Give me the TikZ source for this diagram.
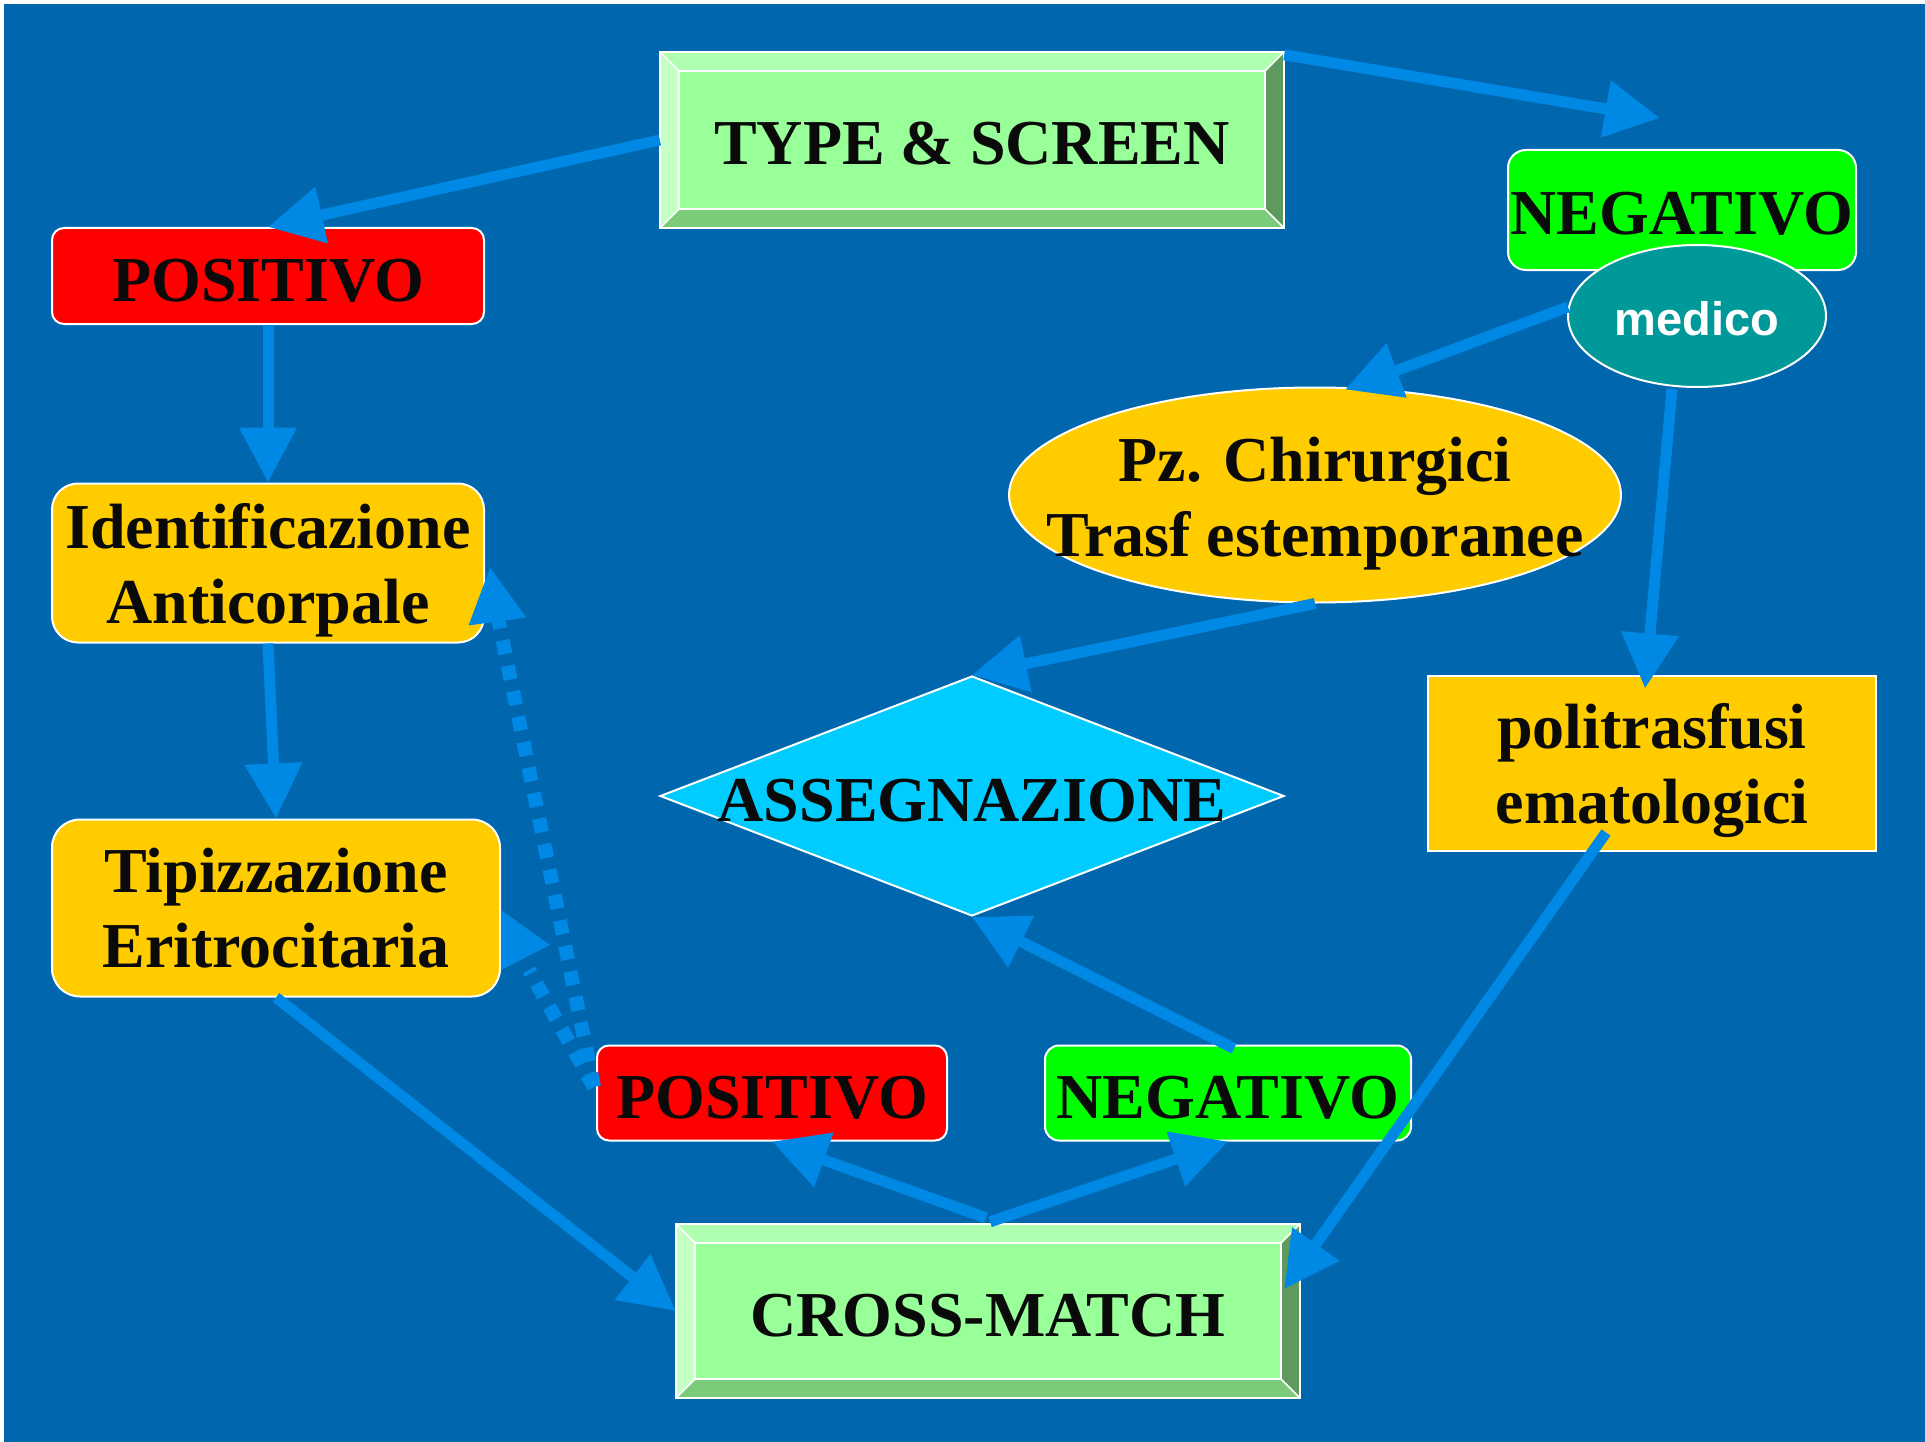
\documentclass[tikz,border=0pt]{standalone}
\usepackage{fontspec}
\setmainfont{Liberation Serif}
\setsansfont{Liberation Sans}
\usetikzlibrary{shapes.geometric,arrows.meta,calc}
\definecolor{bg}{HTML}{0066AE}
\definecolor{arrowc}{HTML}{0088E5}
\definecolor{yel}{HTML}{FFCC00}
\definecolor{redb}{HTML}{FF0000}
\definecolor{grn}{HTML}{00FF00}
\definecolor{tealc}{HTML}{009999}
\definecolor{cyanc}{HTML}{00CCFF}
\definecolor{bvface}{HTML}{99FF99}
\definecolor{bvtop}{HTML}{B0FFB0}
\definecolor{bvleft}{HTML}{C4FFC4}
\definecolor{bvright}{HTML}{5E9A5E}
\definecolor{bvbottom}{HTML}{7BCB7B}
\definecolor{txt}{HTML}{0A0A0A}
\newcommand\bevelfaces[2]{%
  \fill[bvtop] (#1.north west) -- (#1.north east) -- ($(#1.north east)+(-#2,#2)$) -- ($(#1.north west)+(#2,#2)$) -- cycle;
  \fill[bvleft] (#1.north west) -- ($(#1.north west)+(#2,#2)$) -- ($(#1.south west)+(#2,-#2)$) -- (#1.south west) -- cycle;
  \fill[bvright] (#1.north east) -- (#1.south east) -- ($(#1.south east)+(-#2,-#2)$) -- ($(#1.north east)+(-#2,#2)$) -- cycle;
  \fill[bvbottom] (#1.south west) -- (#1.south east) -- ($(#1.south east)+(-#2,-#2)$) -- ($(#1.south west)+(#2,-#2)$) -- cycle;
  \draw[white, line width=2pt] ($(#1.north west)+(#2,#2)$) rectangle ($(#1.south east)+(-#2,-#2)$);
  \draw[white, line width=2pt] (#1.north west) rectangle (#1.south east);
  \draw[white, line width=1.5pt] (#1.north west) -- ($(#1.north west)+(#2,#2)$)
     (#1.north east) -- ($(#1.north east)+(-#2,#2)$)
     (#1.south west) -- ($(#1.south west)+(#2,-#2)$)
     (#1.south east) -- ($(#1.south east)+(-#2,-#2)$);
}
\begin{document}
\begin{tikzpicture}[x=1pt,y=-1pt,
  lbl/.style={font=\fontsize{64pt}{75pt}\selectfont\bfseries, text=txt, align=center, inner sep=0pt, text depth=0pt},
  one/.style={text height=50pt},
  bevelbox/.style={lbl, one, rectangle, fill=bvface},
  rbox/.style={lbl, rectangle, draw=white, line width=2pt},
  arr/.style={draw=arrowc, line width=11pt, -{Triangle[length=55pt,width=55pt]}},
  dotarr/.style={draw=arrowc, line width=14pt, dash pattern=on 14pt off 12pt}]
\useasboundingbox (0,0) rectangle (1925,1442);
\fill[white] (0,0) rectangle (1925,1442);
\fill[bg] (4,4) rectangle (1925,1442);

% bevel boxes
\node[bevelbox, minimum width=624pt, minimum height=176pt] (ts) at (972,140) {TYPE \& SCREEN};
\bevelfaces{ts}{19}
\node[bevelbox, minimum width=624pt, minimum height=174pt] (cm) at (988,1311) {CROSS-MATCH};
\bevelfaces{cm}{19}

% left column
\node[rbox, one, fill=redb, rounded corners=12pt, minimum width=432pt, minimum height=96pt] (posT) at (268,276) {POSITIVO};
\node[rbox, fill=yel, rounded corners=26pt, minimum width=432pt, minimum height=159pt] (idA) at (268,563) {Identificazione\\Anticorpale};
\node[rbox, fill=yel, rounded corners=28pt, minimum width=448pt, minimum height=177pt] (tip) at (276,908) {Tipizzazione\\Eritrocitaria};

% right column
\node[rbox, one, fill=grn, rounded corners=18pt, minimum width=348pt, minimum height=120pt] (negT) at (1682,210) {NEGATIVO};
\node[ellipse, fill=tealc, draw=white, line width=2pt, minimum width=258pt, minimum height=142pt, inner sep=0pt,
      text=white, font=\sffamily\bfseries\fontsize{47pt}{50pt}\selectfont, text height=38pt, text depth=0pt] (med) at (1697,316) {medico};
\node[ellipse, fill=yel, draw=white, line width=2pt, minimum width=612pt, minimum height=215pt, inner sep=0pt] (pz) at (1315,495) {};
\node[lbl] (pzt) at ($(pz.center)+(0,2)$) {Pz. Chirurgici\\Trasf estemporanee};
\node[rbox, fill=yel, minimum width=448pt, minimum height=175pt] (pol) at (1652,763) {politrasfusi\\ematologici};

% diamond
\node[diamond, fill=cyanc, draw=white, line width=2pt, minimum width=624pt, minimum height=240pt, inner sep=0pt] (dia) at (972,796) {};
\node[lbl, one] (diat) at ($(dia.center)+(0,0)$) {ASSEGNAZIONE};

% bottom results
\node[rbox, one, fill=redb, rounded corners=12pt, minimum width=350pt, minimum height=95pt] (posB) at (772,1093) {POSITIVO};
\node[rbox, one, fill=grn, rounded corners=14pt, minimum width=366pt, minimum height=95pt] (negB) at (1228,1093) {NEGATIVO};

% arrows
\draw[arr] (ts.west) -- (posT.north);
\draw[arr] ($(ts.north east)+(0,3)$) -- ($(negT.north)+(-22,-31)$);
\draw[arr] (posT.south) -- (idA.north);
\draw[arr] (idA.south) -- (tip.north);
\draw[arr] ($(med.west)+(1,-9)$) -- ($(pz.north)+(30,3)$);
\draw[arr] ($(med.south)+(-25,1)$) -- ($(pol.north)+(-7,14)$);
\draw[arr] (pz.south) -- (dia.north);
\draw[arr] ($(pol.south)+(-46,-19)$) -- ($(cm.east)+(-16,-22)$);
\draw[arr] (tip.south) -- (cm.west);
\draw[arr] ($(cm.north)+(-2,-6)$) -- (posB.south);
\draw[arr] ($(cm.north)+(2,-2)$) -- (negB.south);
\draw[arr] ($(negB.north)+(6,4)$) -- (dia.south);

% dotted arrows from lower POSITIVO
\draw[dotarr] ($(posB.west)+(-2,-6)$) -- ($(idA.east)+(12,50)$);
\draw[arr] ($(idA.east)+(11,48)$) -- ($(idA.east)+(5,4)$);
\draw[dotarr] ($(posB.west)+(-2,-6)$) -- ($(tip.east)+(28,62)$);
\fill[arrowc] ($(tip.east)+(0,2)$) -- ($(tip.east)+(49,37)$) -- ($(tip.east)+(0,62)$) -- cycle;
\end{tikzpicture}
\end{document}
